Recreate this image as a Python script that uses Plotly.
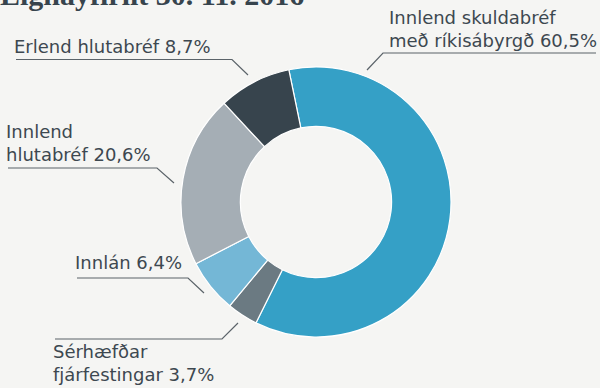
import plotly.graph_objects as go

# Asset allocation (percent of total)
categories = [
    "Innlend skuldabréf<br>með ríkisábyrgð",
    "Sérhæfðar<br>fjárfestingar",
    "Innlán",
    "Innlend<br>hlutabréf",
    "Erlend hlutabréf",
]
values = [60.5, 3.7, 6.4, 20.6, 8.7]
colors = ["#35a0c6", "#6b7a82", "#74b7d6", "#a5aeb5", "#37444d"]

W, H = 600, 388
BG = "#f5f5f3"
TXT = "#3d4850"
LINE = "#5b6369"


def px(x):
    return x / W


def py(y):
    return 1 - y / H


# donut placement (pixels)
cx, cy, r = 316, 202, 135

fig = go.Figure(
    go.Pie(
        labels=[c.replace("<br>", " ") for c in categories],
        values=values,
        hole=0.56,
        sort=False,
        direction="clockwise",
        rotation=-11.6,
        marker=dict(colors=colors, line=dict(color="#ffffff", width=1.2)),
        textinfo="none",
        hoverinfo="label+percent",
        domain=dict(x=[px(cx - r), px(cx + r)], y=[py(cy + r), py(cy - r)]),
        showlegend=False,
    )
)


def fmt(v):
    return f"{v:.1f}".replace(".", ",") + "%"


# label text anchors (left x, top y) and leader lines (underline + diagonal)
label_pos = [
    (387, 5),
    (51, 339),
    (73, 250),
    (4, 119),
    (12, 34),
]
leaders = [
    [(596, 53), (383, 53), (367, 70)],
    [(55, 339), (222, 339), (238, 323)],
    [(77, 278), (188, 278), (204, 293)],
    [(8, 168), (157, 168), (174, 183)],
    [(16, 59.5), (232, 59.5), (248, 75)],
]

annotations = []
shapes = []
for name, v, (lx, ly), pts in zip(categories, values, label_pos, leaders):
    annotations.append(
        dict(
            text=f"{name} {fmt(v)}",
            x=px(lx), y=py(ly), xref="paper", yref="paper",
            xanchor="left", yanchor="top", align="left",
            showarrow=False,
            font=dict(family="DejaVu Sans", size=18, color=TXT),
        )
    )
    path = "M " + " L ".join(f"{px(a)},{py(b)}" for a, b in pts)
    shapes.append(
        dict(type="path", path=path, xref="paper", yref="paper",
             line=dict(color=LINE, width=1.2))
    )

# heading, sitting partly above the top edge
annotations.append(
    dict(
        text="<b>Eignayfirlit 30. 11. 2016</b>",
        x=px(-2), y=py(-6), xref="paper", yref="paper",
        xanchor="left", yanchor="middle", showarrow=False,
        font=dict(family="Liberation Serif", size=30, color="#37444d"),
    )
)

fig.update_layout(
    width=W, height=H,
    margin=dict(l=0, r=0, t=0, b=0),
    paper_bgcolor=BG, plot_bgcolor=BG,
    annotations=annotations, shapes=shapes,
)

fig.write_html("out.html")
